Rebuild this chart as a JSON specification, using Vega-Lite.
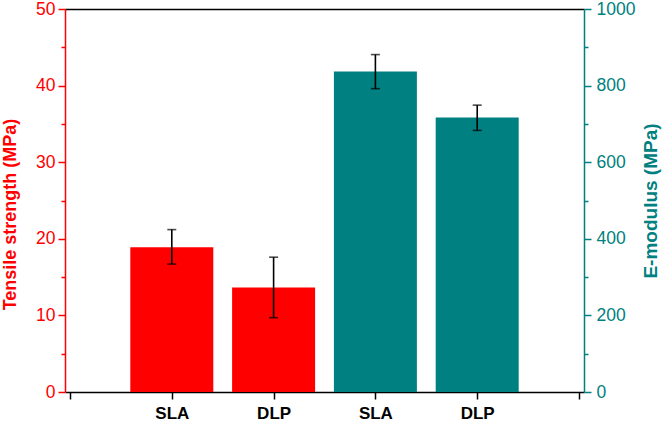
{
  "$schema": "https://vega.github.io/schema/vega-lite/v6.json",
  "width": 519,
  "height": 383,
  "autosize": {"type": "none"},
  "padding": {"left": 65, "top": 9, "right": 82, "bottom": 30},
  "background": "white",
  "config": {
    "view": {"stroke": null},
    "font": "Liberation Sans",
    "axis": {"grid": false, "labelFont": "Liberation Sans", "titleFont": "Liberation Sans", "labelOverlap": false, "labelFlush": false, "domainWidth": 1.5, "tickWidth": 1.5}
  },
  "datasets": {
    "ts": [
      {"pos": 1, "label": "SLA", "value": 18.9, "lo": 16.7, "hi": 21.2},
      {"pos": 2, "label": "DLP", "value": 13.65, "lo": 9.7, "hi": 17.6}
    ],
    "em": [
      {"pos": 3, "label": "SLA", "value": 837, "lo": 792, "hi": 881},
      {"pos": 4, "label": "DLP", "value": 717, "lo": 683, "hi": 749}
    ]
  },
  "layer": [
    {
      "data": {"name": "ts"},
      "resolve": {"axis": {"x": "independent", "y": "independent"}},
      "layer": [
        {
          "mark": {"type": "bar", "width": 83, "color": "#FF0000"},
          "encoding": {
            "x": {
              "field": "pos", "type": "quantitative",
              "scale": {"domain": [0, 5], "nice": false, "zero": false},
              "axis": {
                "orient": "bottom", "title": null, "values": [0, 1, 2, 3, 4, 5],
                "labelExpr": "datum.value == 1 || datum.value == 3 ? 'SLA' : (datum.value == 2 || datum.value == 4 ? 'DLP' : '')",
                "domainColor": "black", "tickColor": "black", "tickSize": 7,
                "labelColor": "black", "labelFontSize": 17, "labelFontWeight": "bold", "labelPadding": 6
              }
            },
            "y": {
              "field": "value", "type": "quantitative",
              "scale": {"domain": [0, 50], "nice": false, "zero": true},
              "axis": {
                "orient": "left", "title": "Tensile strength (MPa)",
                "values": [0, 10, 20, 30, 40, 50],
                "tickSize": 7,
                "domainColor": "#FF0000", "tickColor": "#FF0000", "labelColor": "#FF0000",
                "labelFontSize": 17.5, "labelPadding": 3,
                "titleColor": "#FF0000", "titleFontSize": 18, "titleFontWeight": "bold", "titlePadding": 16, "titleY": 205
              }
            }
          }
        },
        {
          "mark": {"type": "rule", "color": "black", "strokeWidth": 1.6},
          "encoding": {
            "x": {"field": "pos", "type": "quantitative", "axis": null},
            "y": {
              "field": "lo", "type": "quantitative",
              "axis": {"orient": "left", "title": null, "values": [5, 15, 25, 35, 45], "tickSize": 4, "labels": false, "domain": false, "tickColor": "#FF0000"}
            },
            "y2": {"field": "hi"}
          }
        },
        {
          "mark": {"type": "tick", "orient": "horizontal", "color": "black", "size": 9, "thickness": 1.6},
          "encoding": {
            "x": {"field": "pos", "type": "quantitative", "axis": null},
            "y": {"field": "lo", "type": "quantitative", "axis": null}
          }
        },
        {
          "mark": {"type": "tick", "orient": "horizontal", "color": "black", "size": 9, "thickness": 1.6},
          "encoding": {
            "x": {"field": "pos", "type": "quantitative", "axis": null},
            "y": {"field": "hi", "type": "quantitative", "axis": null}
          }
        }
      ]
    },
    {
      "data": {"name": "em"},
      "resolve": {"axis": {"x": "independent", "y": "independent"}},
      "layer": [
        {
          "mark": {"type": "bar", "width": 83, "color": "#008080"},
          "encoding": {
            "x": {
              "field": "pos", "type": "quantitative",
              "scale": {"domain": [0, 5], "nice": false, "zero": false},
              "axis": {"orient": "top", "title": null, "labels": false, "ticks": false, "domainColor": "black"}
            },
            "y": {
              "field": "value", "type": "quantitative",
              "scale": {"domain": [0, 1000], "nice": false, "zero": true},
              "axis": {
                "orient": "right", "title": "E-modulus (MPa)",
                "values": [0, 200, 400, 600, 800, 1000], "format": "d",
                "tickSize": 7,
                "domainColor": "#008080", "tickColor": "#008080", "labelColor": "#008080",
                "labelFontSize": 17.5, "labelPadding": 5,
                "titleColor": "#008080", "titleFontSize": 19, "titleFontWeight": "bold", "titlePadding": 7, "titleAngle": 270, "titleBaseline": "top"
              }
            }
          }
        },
        {
          "mark": {"type": "rule", "color": "black", "strokeWidth": 1.6},
          "encoding": {
            "x": {"field": "pos", "type": "quantitative", "axis": null},
            "y": {
              "field": "lo", "type": "quantitative",
              "axis": {"orient": "right", "title": null, "values": [100, 300, 500, 700, 900], "tickSize": 4, "labels": false, "domain": false, "tickColor": "#008080"}
            },
            "y2": {"field": "hi"}
          }
        },
        {
          "mark": {"type": "tick", "orient": "horizontal", "color": "black", "size": 9, "thickness": 1.6},
          "encoding": {
            "x": {"field": "pos", "type": "quantitative", "axis": null},
            "y": {"field": "lo", "type": "quantitative", "axis": null}
          }
        },
        {
          "mark": {"type": "tick", "orient": "horizontal", "color": "black", "size": 9, "thickness": 1.6},
          "encoding": {
            "x": {"field": "pos", "type": "quantitative", "axis": null},
            "y": {"field": "hi", "type": "quantitative", "axis": null}
          }
        }
      ]
    }
  ],
  "resolve": {"scale": {"y": "independent"}, "axis": {"x": "independent", "y": "independent"}}
}
